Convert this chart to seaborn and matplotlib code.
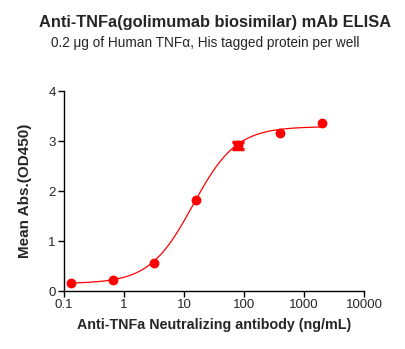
import matplotlib
matplotlib.use("Agg")
import matplotlib.pyplot as plt
import numpy as np
import pandas as pd
import seaborn as sns

# concentrations (ng/mL), 5-fold dilution series
conc = [0.128, 0.64, 3.2, 16, 80, 400, 2000]
od_mean = [0.16, 0.22, 0.57, 1.83, 2.92, 3.17, 3.36]
od_sd = [0.0, 0.0, 0.0, 0.0, 0.07, 0.0, 0.0]

# 4PL fit parameters (bottom, top, EC50, hill)
fit_bottom = 0.15
fit_top = 3.29
fit_ec50 = 14.0
fit_hill = 1.2

xs = np.logspace(np.log10(conc[0]), np.log10(conc[-1]), 300)
curve = pd.DataFrame({
    "x": xs,
    "y": fit_bottom + (fit_top - fit_bottom) / (1 + (fit_ec50 / xs) ** fit_hill),
})
pts = pd.DataFrame({"x": conc, "y": od_mean, "sd": od_sd})
err = pts[pts["sd"] > 0]

sns.set_theme(style="ticks")
plt.rcParams["font.family"] = ["Liberation Sans", "DejaVu Sans"]

fig = plt.figure(figsize=(4.06, 3.49), dpi=100)
ax = fig.add_axes([0.158, 0.166, 0.739, 0.573])

red = "#ff0000"
sns.lineplot(data=curve, x="x", y="y", color=red, lw=0.9, ax=ax)
ax.errorbar(err["x"], err["y"], yerr=err["sd"], fmt="none", ecolor=red,
            elinewidth=1.5, capsize=4, capthick=2.5, zorder=4)
sns.scatterplot(data=pts, x="x", y="y", color=red, s=50, edgecolor=red,
                linewidth=0, ax=ax, zorder=3)

ax.set_xscale("log")
ax.set_xlim(0.1, 10000)
ax.set_ylim(0, 4)
ax.set_xticks([0.1, 1, 10, 100, 1000, 10000])
ax.set_xticklabels(["0.1", "1", "10", "100", "1000", "10000"])
ax.minorticks_off()
ax.set_yticks([0, 1, 2, 3, 4])
ax.tick_params(labelsize=9.5, length=4, width=1, color="black", pad=2)
for s in ["left", "bottom"]:
    ax.spines[s].set_linewidth(1.0)
    ax.spines[s].set_color("black")
sns.despine(ax=ax)

ax.set_xlabel("Anti-TNFa Neutralizing antibody (ng/mL)", fontsize=10.3,
              fontweight="bold", labelpad=5)
ax.set_ylabel("Mean Abs.(OD450)", fontsize=11, fontweight="bold", labelpad=12)

fig.text(0.53, 0.935, "Anti-TNFa(golimumab biosimilar) mAb ELISA",
         ha="center", va="center", fontsize=11.8, fontweight="bold")
fig.text(0.505, 0.878, "0.2 \u03bcg of Human TNF\u03b1, His tagged protein per well",
         ha="center", va="center", fontsize=9.8)

fig.savefig("out.png", dpi=100)
plt.close(fig)
